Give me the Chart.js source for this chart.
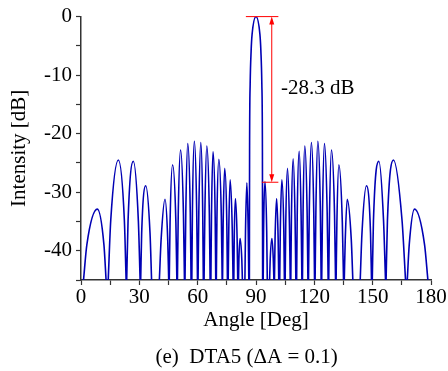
<!DOCTYPE html>
<html>
<head>
<meta charset="utf-8">
<script src="https://cdn.jsdelivr.net/npm/chart.js@4"></script>
<style>
html,body{margin:0;padding:0;background:#fff;}
</style>
</head>
<body>
<canvas id="chart" width="448" height="371"></canvas>
<script>
// [angle deg, intensity dB], one list per lobe
const leftSidelobes = [
  [[1.3,-45],[3.0,-39.0],[8.4,-32.9],[11.8,-39.0],[12.9,-45]],
  [[14.0,-45],[15.3,-34.8],[19.2,-24.5],[22.3,-34.8],[23.2,-45]],
  [[23.5,-45],[24.2,-34.9],[26.9,-24.7],[29.5,-34.9],[30.4,-45]],
  [[30.7,-45],[31.2,-37.0],[33.3,-28.9],[35.5,-37.0],[36.3,-45]],
  [[40.3,-45],[41.2,-38.1],[43.2,-31.2],[44.6,-38.1],[45.1,-45]],
  [[45.4,-45],[45.8,-35.2],[47.1,-25.3],[48.8,-35.2],[49.3,-45]],
  [[49.6,-45],[50.0,-33.9],[51.2,-22.8],[52.7,-33.9],[53.2,-45]],
  [[53.5,-45],[53.9,-33.4],[54.9,-21.7],[56.2,-33.4],[56.6,-45]],
  [[57.0,-45],[57.3,-33.2],[58.3,-21.3],[59.5,-33.2],[59.9,-45]],
  [[60.2,-45],[60.6,-33.3],[61.6,-21.5],[62.6,-33.3],[62.9,-45]],
  [[63.3,-45],[63.7,-33.6],[64.7,-22.1],[66.0,-33.6],[66.4,-45]],
  [[66.8,-45],[67.1,-34.1],[67.9,-23.1],[69.0,-34.1],[69.3,-45]],
  [[69.6,-45],[69.9,-34.7],[70.9,-24.4],[72.2,-34.7],[72.6,-45]],
  [[72.8,-45],[73.1,-35.5],[73.9,-25.9],[75.0,-35.5],[75.3,-45]],
  [[75.7,-45],[76.0,-36.5],[76.7,-27.9],[77.8,-36.5],[78.2,-45]],
  [[78.6,-45],[78.8,-38.1],[79.4,-31.1],[80.3,-38.1],[80.6,-45]],
  [[81.0,-45],[81.2,-41.5],[81.8,-37.9],[82.7,-41.5],[83.0,-45]],
  [[84.3,-45],[84.6,-36.7],[85.3,-28.4],[86.0,-36.7],[86.3,-45]]
];
const mainLobe = [
  [86.6,-45],[86.7,-22.8],[87.0,-11.5],[87.5,-5.8],[88.0,-3.0],[90,0],
  [92.0,-3.0],[92.5,-5.8],[93.0,-11.5],[93.3,-22.8],[93.4,-45]
];
const rightSidelobes = [
  [[93.7,-45],[93.9,-36.6],[94.6,-28.2],[95.5,-36.6],[95.8,-45]],
  [[97.0,-45],[97.3,-41.5],[98.2,-37.9],[98.9,-41.5],[99.2,-45]],
  [[99.5,-45],[99.8,-38.1],[100.6,-31.1],[101.4,-38.1],[101.7,-45]],
  [[102.2,-45],[102.5,-36.5],[103.3,-27.9],[104.3,-36.5],[104.6,-45]],
  [[105.0,-45],[105.3,-35.5],[106.2,-25.9],[107.2,-35.5],[107.6,-45]],
  [[107.9,-45],[108.2,-34.7],[109.1,-24.3],[110.1,-34.7],[110.5,-45]],
  [[110.9,-45],[111.2,-34.0],[112.2,-23.0],[113.2,-34.0],[113.6,-45]],
  [[113.9,-45],[114.2,-33.6],[115.1,-22.1],[116.3,-33.6],[116.7,-45]],
  [[117.0,-45],[117.4,-33.3],[118.5,-21.5],[119.7,-33.3],[120.1,-45]],
  [[120.4,-45],[120.8,-33.2],[121.8,-21.3],[123.1,-33.2],[123.5,-45]],
  [[123.8,-45],[124.2,-33.4],[125.2,-21.7],[126.6,-33.4],[127.1,-45]],
  [[127.4,-45],[127.8,-33.9],[128.8,-22.8],[130.4,-33.9],[130.9,-45]],
  [[131.2,-45],[131.6,-35.2],[132.6,-25.3],[134.4,-35.2],[135.0,-45]],
  [[135.4,-45],[135.9,-38.1],[136.9,-31.2],[139.0,-38.1],[139.8,-45]],
  [[143.6,-45],[144.5,-37.0],[146.8,-28.9],[148.9,-37.0],[149.4,-45]],
  [[149.8,-45],[150.4,-34.9],[153.2,-24.7],[155.6,-34.9],[156.6,-45]],
  [[156.9,-45],[157.6,-34.8],[160.7,-24.5],[165.1,-34.8],[166.9,-45]],
  [[167.8,-45],[168.8,-39.0],[171.5,-32.9],[176.7,-39.0],[178.4,-45]]
];

// red marker: peak level, first sidelobe level
const peakLevel = 0;
const sidelobeLevel = -28.3;
const markerLabel = "-28.3 dB";

const serif = '"Liberation Serif", "Times New Roman", serif';

const lobes = [...leftSidelobes, mainLobe, ...rightSidelobes];
const points = [];
lobes.forEach(lobe => {
  if (points.length) points.push({x: lobe[0][0], y: null}); // break between lobes
  lobe.forEach(p => points.push({x: p[0], y: p[1]}));
});

const marker = {
  id: 'marker',
  afterDatasetsDraw(chart) {
    const {ctx, scales: {x, y}} = chart;
    const yTop = y.getPixelForValue(peakLevel);
    const yBot = y.getPixelForValue(sidelobeLevel);
    const xArrow = x.getPixelForValue(98.1);
    ctx.save();
    ctx.strokeStyle = '#ff0000';
    ctx.fillStyle = '#ff0000';
    ctx.lineWidth = 1;
    ctx.beginPath();
    ctx.moveTo(x.getPixelForValue(84.8), yTop);
    ctx.lineTo(x.getPixelForValue(101.5), yTop);
    ctx.moveTo(x.getPixelForValue(93.0), yBot);
    ctx.lineTo(x.getPixelForValue(101.5), yBot);
    ctx.moveTo(xArrow, yTop + 6);
    ctx.lineTo(xArrow, yBot - 6);
    ctx.stroke();
    // arrow heads
    ctx.beginPath();
    ctx.moveTo(xArrow, yTop);
    ctx.lineTo(xArrow - 2.5, yTop + 8);
    ctx.lineTo(xArrow + 2.5, yTop + 8);
    ctx.closePath();
    ctx.moveTo(xArrow, yBot);
    ctx.lineTo(xArrow - 2.5, yBot - 8);
    ctx.lineTo(xArrow + 2.5, yBot - 8);
    ctx.closePath();
    ctx.fill();
    ctx.fillStyle = '#000';
    ctx.font = '21px ' + serif;
    ctx.textAlign = 'left';
    ctx.textBaseline = 'alphabetic';
    ctx.fillText(markerLabel, x.getPixelForValue(102.9), y.getPixelForValue(-13.3));
    ctx.restore();
  },
  afterDraw(chart) {
    const ctx = chart.ctx;
    ctx.save();
    ctx.fillStyle = '#000';
    ctx.font = '21px ' + serif;
    ctx.textAlign = 'center';
    ctx.textBaseline = 'alphabetic';
    ctx.fillText('(e)  DTA5 (\u0394A = 0.1)', 246.7, 363);
    ctx.restore();
  }
};

new Chart(document.getElementById('chart'), {
  type: 'line',
  data: {
    datasets: [{
      data: points,
      borderColor: '#0000b4',
      borderWidth: 1.6,
      pointRadius: 0,
      fill: false,
      spanGaps: false,
      cubicInterpolationMode: 'monotone'
    }]
  },
  options: {
    responsive: false,
    animation: false,
    layout: {padding: {left: 0, right: 17, top: 16, bottom: 33}},
    plugins: {legend: {display: false}, tooltip: {enabled: false}},
    scales: {
      x: {
        type: 'linear',
        min: 0, max: 180,
        afterFit: s => { s.height = 58; },
        grid: {drawOnChartArea: false, drawTicks: true, tickLength: 5, tickColor: '#333', tickWidth: 1.2},
        border: {display: true, color: '#333', width: 1.5},
        ticks: {
          stepSize: 15, autoSkip: false, maxRotation: 0, padding: 0,
          color: '#000', font: {family: serif, size: 21},
          callback: v => v % 30 === 0 ? v : ''
        },
        title: {display: true, text: 'Angle [Deg]', color: '#000',
          font: {family: serif, size: 21}, padding: {top: 0, bottom: 5}}
      },
      y: {
        min: -45, max: 0,
        afterFit: s => { s.width = 81; },
        grid: {drawOnChartArea: false, drawTicks: true, tickLength: 5, tickColor: '#333', tickWidth: 1.2},
        border: {display: true, color: '#333', width: 1.5},
        ticks: {
          stepSize: 5, autoSkip: false, padding: 4,
          color: '#000', font: {family: serif, size: 21},
          callback: v => v % 10 === 0 ? v : ''
        },
        title: {display: true, text: 'Intensity [dB]', color: '#000',
          font: {family: serif, size: 21}, padding: {top: 7, bottom: 0}}
      }
    }
  },
  plugins: [marker]
});
</script>
</body>
</html>
